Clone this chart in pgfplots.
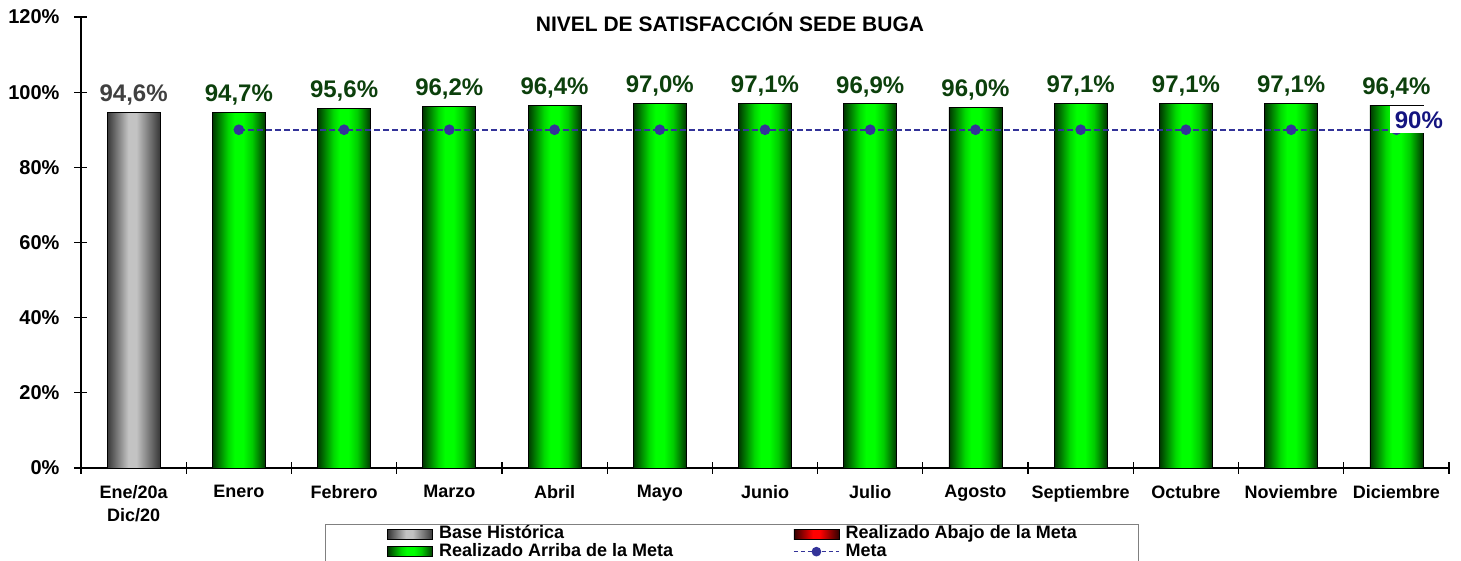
\documentclass[border=0pt]{standalone}
\usepackage{pgfplots}
\pgfplotsset{compat=1.18}
\usepackage{fontspec}
\setmainfont{Liberation Sans}

\definecolor{verde}{RGB}{0,255,0}
\definecolor{verdeosc}{RGB}{0,55,0}
\definecolor{etiqverde}{RGB}{12,64,12}
\definecolor{metaazul}{RGB}{51,51,153}
\definecolor{azul90}{RGB}{20,20,128}
\definecolor{grisosc}{RGB}{55,55,55}
\definecolor{grisclaro}{RGB}{195,195,195}

% sombreado horizontal de las barras: borde oscuro, centro brillante
% (TikZ ajusta la franja 25bp-75bp al ancho de la barra)
\pgfdeclarehorizontalshading{verdebarra}{100bp}{color(0bp)=(verdeosc); color(25bp)=(verdeosc); color(40bp)=(verde!85!black); color(46bp)=(verde); color(54bp)=(verde); color(62.5bp)=(verde!80!black); color(75bp)=(verdeosc); color(100bp)=(verdeosc)}
\pgfdeclarehorizontalshading{grisbarra}{100bp}{color(0bp)=(grisosc); color(25bp)=(grisosc); color(45bp)=(grisclaro); color(52.5bp)=(grisclaro); color(75bp)=(grisosc); color(100bp)=(grisosc)}
\pgfdeclarehorizontalshading{rojobarra}{100bp}{color(0bp)=(red!20!black); color(25bp)=(red!20!black); color(46bp)=(red); color(54bp)=(red); color(75bp)=(red!20!black); color(100bp)=(red!20!black)}

\pgfplotsset{
    barra/.style={ybar, bar width=26.5pt, bar shift=0pt, draw=black, line width=0.4pt,
        nodes near coords={\pgfmathprintnumber[fixed,fixed zerofill,precision=1,use comma]{\pgfplotspointmeta}\%},
        forget plot},
    barraverde/.style={barra, shading=verdebarra,
        every node near coord/.append style={font=\fontsize{12}{14}\selectfont\bfseries, text=etiqverde}},
}

\begin{document}
\begin{tikzpicture}
\begin{axis}[
    at={(0,0)}, anchor=south west,
    scale only axis,
    width=684pt,
    height=225.5pt,
    xmin=-0.5, xmax=12.5,
    ymin=0, ymax=120,
    axis lines*=left,
    axis line style={black, line width=0.6pt},
    /pgf/number format/assume math mode=true,
    tick align=center,
    major tick length=6.5pt,
    minor tick length=6pt,
    tick style={black, line width=0.6pt},
    ytick={0,20,40,60,80,100,120},
    yticklabels={0\%,20\%,40\%,60\%,80\%,100\%,120\%},
    yticklabel style={font=\fontsize{10}{12}\selectfont\bfseries, xshift=-4pt},
    xtick={0,1,2,3,4,5,6,7,8,9,10,11,12},
    xticklabels={{Ene/20a\\Dic/20},Enero,Febrero,Marzo,Abril,Mayo,Junio,Julio,Agosto,Septiembre,Octubre,Noviembre,Diciembre},
    xticklabel style={align=center, yshift=-2pt, font=\fontsize{9}{11.5}\selectfont\bfseries},
    major x tick style={draw=none},
    minor xtick={-0.5,0.5,1.5,2.5,3.5,4.5,5.5,6.5,7.5,8.5,9.5,10.5,11.5,12.5},
    title={NIVEL DE SATISFACCIÓN SEDE BUGA},
    every axis title shift=0pt,
    title style={at={(0.4744,0.9674)}, anchor=base, font=\fontsize{10.5}{12}\selectfont\bfseries},
    legend columns=2,
    legend cell align=left,
    legend style={at={(0.1784,-0.1242)}, anchor=north west, draw=gray,
        inner xsep=31pt, inner ysep=0.5pt,
        font=\fontsize{9}{10}\selectfont\bfseries,
        nodes={inner xsep=0pt, inner ysep=0.25pt, text height=6.5pt, text depth=1.75pt},
        /tikz/every odd column/.style={column sep=3pt},
        /tikz/every even column/.style={column sep=60pt}},
]
% base historica
\addplot[barra, shading=grisbarra,
    every node near coord/.append style={font=\fontsize{12}{14}\selectfont\bfseries, text=black!75}]
    coordinates {(0,94.6)};
% realizado por mes (una barra por plot para que cada una lleve su sombreado)
\addplot[barraverde] coordinates {(1,94.7)};
\addplot[barraverde] coordinates {(2,95.6)};
\addplot[barraverde] coordinates {(3,96.2)};
\addplot[barraverde] coordinates {(4,96.4)};
\addplot[barraverde] coordinates {(5,97.0)};
\addplot[barraverde] coordinates {(6,97.1)};
\addplot[barraverde] coordinates {(7,96.9)};
\addplot[barraverde] coordinates {(8,96.0)};
\addplot[barraverde] coordinates {(9,97.1)};
\addplot[barraverde] coordinates {(10,97.1)};
\addplot[barraverde] coordinates {(11,97.1)};
\addplot[barraverde] coordinates {(12,96.4)};
% meta
\addplot[metaazul, line width=0.8pt, dash pattern=on 3pt off 1.5pt,
    mark=*, mark size=2.25pt, mark options={solid, fill=metaazul},
    forget plot] coordinates {
    (1,90) (2,90) (3,90) (4,90) (5,90) (6,90)
    (7,90) (8,90) (9,90) (10,90) (11,90) (12,90)
};
\addplot[draw=none, mark=none,
    nodes near coords={90\%},
    every node near coord/.append style={anchor=center, fill=white, inner sep=2.5pt,
        font=\fontsize{12}{14}\selectfont\bfseries, text=azul90, xshift=11.25pt, yshift=5pt},
    forget plot] coordinates {(12,90)};

\addlegendimage{legend image code/.code={\draw[black, line width=0.3pt, shading=grisbarra] (0pt,-2.5pt) rectangle (22.5pt,2.5pt);}}
\addlegendentry{Base Histórica}
\addlegendimage{legend image code/.code={\draw[black, line width=0.3pt, shading=rojobarra] (0pt,-2.5pt) rectangle (22.5pt,2.5pt);}}
\addlegendentry{Realizado Abajo de la Meta}
\addlegendimage{legend image code/.code={\draw[black, line width=0.3pt, shading=verdebarra] (0pt,-2.5pt) rectangle (22.5pt,2.5pt);}}
\addlegendentry{Realizado Arriba de la Meta}
\addlegendimage{legend image code/.code={\draw[metaazul, line width=0.8pt, dash pattern=on 2pt off 1.5pt] (0pt,0pt) -- (22.5pt,0pt); \fill[metaazul] (11.25pt,0pt) circle (2.2pt);}}
\addlegendentry{Meta}
\end{axis}
\pgfresetboundingbox
\path[use as bounding box] (-40.5pt,-46.5pt) rectangle (690pt,234pt);
\end{tikzpicture}
\end{document}
